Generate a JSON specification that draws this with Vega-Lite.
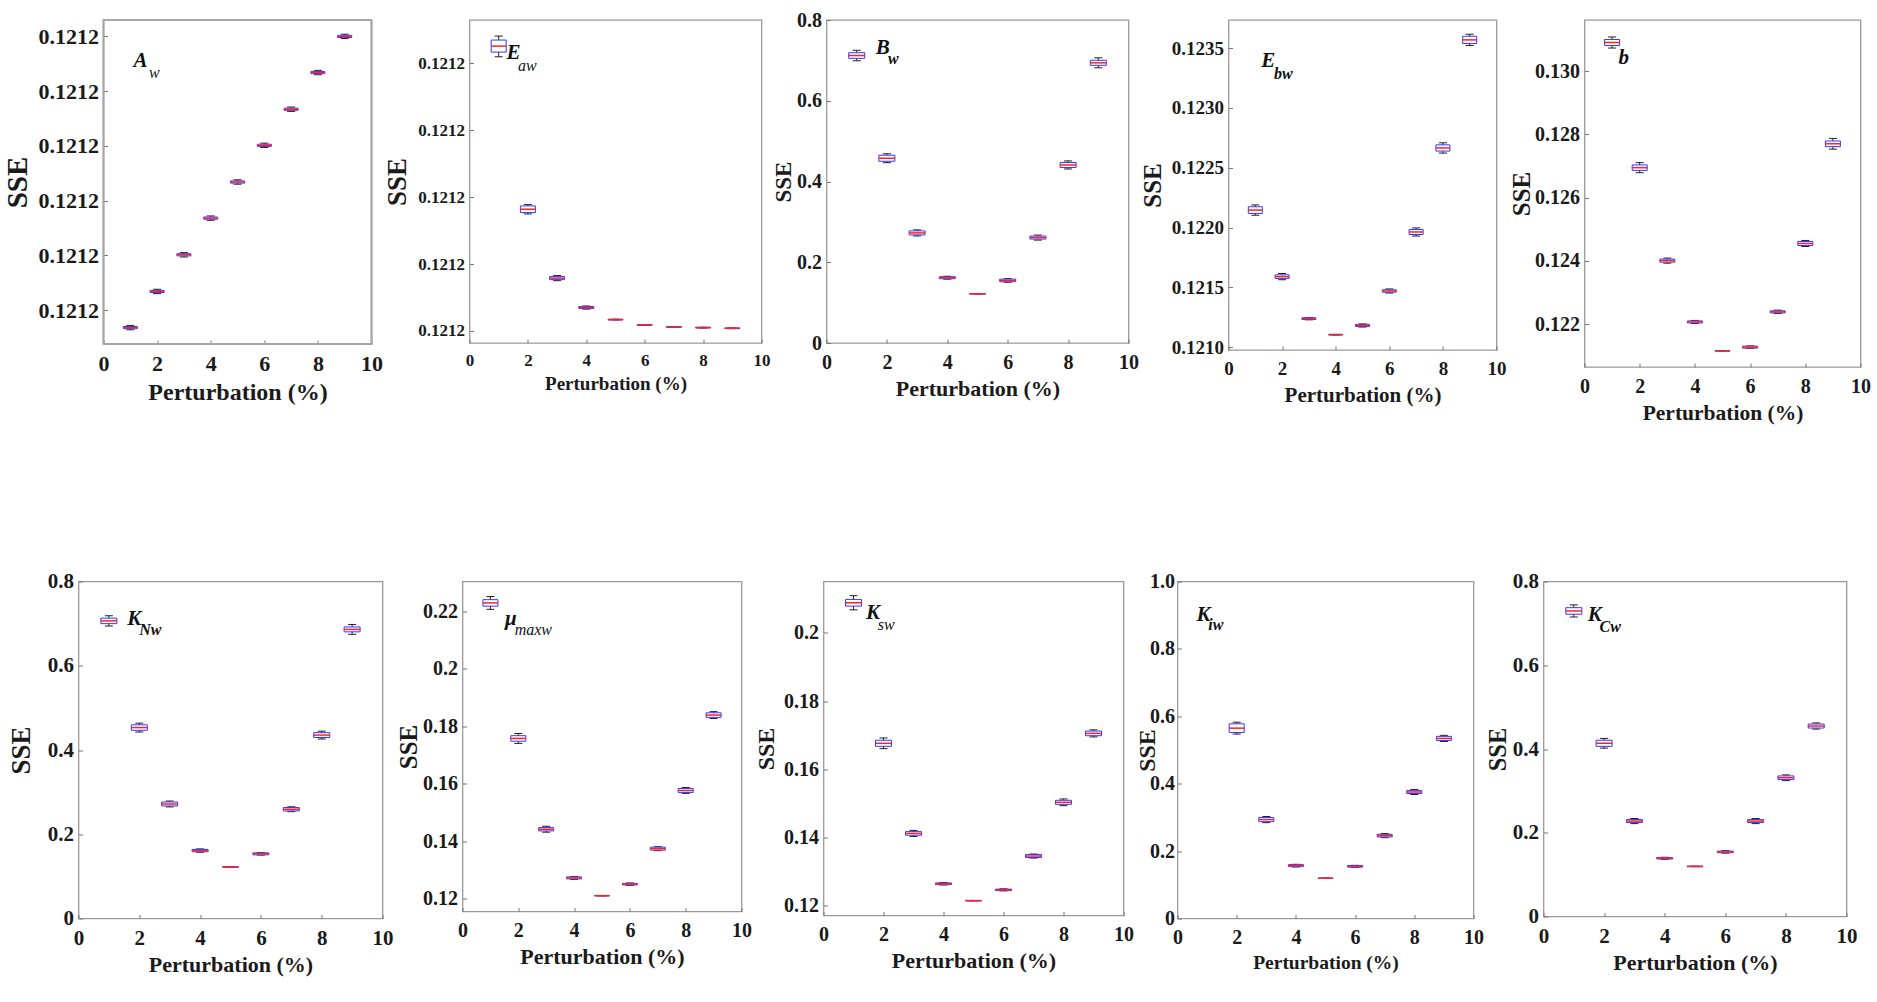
{
"$schema": "https://vega.github.io/schema/vega-lite/v6.json",
"background": "white",
"padding": {"left": 2.5, "top": 9, "right": 0, "bottom": 0},
"config": {
  "view": {"stroke": "#9a9a9a", "strokeWidth": 1.3},
  "axis": {"domain": false, "grid": false, "tickSize": -4, "tickColor": "#777777", "labelFlush": false, "labelFont": "Liberation Serif", "labelFontWeight": "bold", "labelColor": "#1a1a1a", "titleFont": "Liberation Serif", "titleFontWeight": "bold", "titleColor": "#1a1a1a"},
  "axisX": {"labelPadding": 13, "titlePadding": 6},
  "axisY": {"labelPadding": 9}
},
"datasets": {
  "Aw": [
    {"x": 1, "med": 0.1211568, "q1": 0.1211566, "q3": 0.121157, "lo": 0.1211564, "hi": 0.1211572},
    {"x": 2, "med": 0.1211634, "q1": 0.1211632, "q3": 0.1211636, "lo": 0.121163, "hi": 0.1211638},
    {"x": 3, "med": 0.1211701, "q1": 0.1211699, "q3": 0.1211703, "lo": 0.1211697, "hi": 0.1211705},
    {"x": 4, "med": 0.1211768, "q1": 0.1211766, "q3": 0.121177, "lo": 0.1211764, "hi": 0.1211772},
    {"x": 5, "med": 0.1211834, "q1": 0.1211832, "q3": 0.1211836, "lo": 0.121183, "hi": 0.1211838},
    {"x": 6, "med": 0.1211901, "q1": 0.1211899, "q3": 0.1211903, "lo": 0.1211897, "hi": 0.1211905},
    {"x": 7, "med": 0.1211967, "q1": 0.1211965, "q3": 0.1211969, "lo": 0.1211963, "hi": 0.1211971},
    {"x": 8, "med": 0.1212034, "q1": 0.1212032, "q3": 0.1212036, "lo": 0.121203, "hi": 0.1212038},
    {"x": 9, "med": 0.12121, "q1": 0.1212098, "q3": 0.1212102, "lo": 0.1212096, "hi": 0.1212104}
  ],
  "Eaw": [
    {"x": 1, "med": 0.1212026, "q1": 0.1212017, "q3": 0.1212035, "lo": 0.121201, "hi": 0.1212041},
    {"x": 2, "med": 0.1211782, "q1": 0.1211777, "q3": 0.1211787, "lo": 0.1211775, "hi": 0.1211789},
    {"x": 3, "med": 0.1211679, "q1": 0.12116767, "q3": 0.12116813, "lo": 0.12116752, "hi": 0.12116828},
    {"x": 4, "med": 0.1211635, "q1": 0.12116335, "q3": 0.12116365, "lo": 0.12116327, "hi": 0.12116373},
    {"x": 5, "med": 0.1211617, "q1": 0.12116165, "q3": 0.12116175, "lo": 0.12116165, "hi": 0.12116175},
    {"x": 6, "med": 0.1211609, "q1": 0.12116085, "q3": 0.12116095, "lo": 0.12116085, "hi": 0.12116095},
    {"x": 7, "med": 0.1211606, "q1": 0.12116055, "q3": 0.12116065, "lo": 0.12116055, "hi": 0.12116065},
    {"x": 8, "med": 0.1211605, "q1": 0.12116045, "q3": 0.12116055, "lo": 0.12116045, "hi": 0.12116055},
    {"x": 9, "med": 0.1211604, "q1": 0.12116035, "q3": 0.12116045, "lo": 0.12116035, "hi": 0.12116045}
  ],
  "Bw": [
    {"x": 1, "med": 0.712, "q1": 0.705, "q3": 0.719, "lo": 0.699, "hi": 0.725},
    {"x": 2, "med": 0.4576, "q1": 0.4501, "q3": 0.4651, "lo": 0.4466, "hi": 0.4686},
    {"x": 3, "med": 0.2727, "q1": 0.2677, "q3": 0.2777, "lo": 0.2652, "hi": 0.2802},
    {"x": 4, "med": 0.1617, "q1": 0.1592, "q3": 0.1642, "lo": 0.158, "hi": 0.1654},
    {"x": 5, "med": 0.1219, "q1": 0.1214, "q3": 0.1224, "lo": 0.1214, "hi": 0.1224},
    {"x": 6, "med": 0.155, "q1": 0.1518, "q3": 0.1582, "lo": 0.1505, "hi": 0.1595},
    {"x": 7, "med": 0.2611, "q1": 0.2574, "q3": 0.2648, "lo": 0.2549, "hi": 0.2673},
    {"x": 8, "med": 0.441, "q1": 0.4348, "q3": 0.4472, "lo": 0.431, "hi": 0.451},
    {"x": 9, "med": 0.694, "q1": 0.6878, "q3": 0.7002, "lo": 0.6816, "hi": 0.7064}
  ],
  "Ebw": [
    {"x": 1, "med": 0.122146, "q1": 0.122118, "q3": 0.122174, "lo": 0.122103, "hi": 0.122189},
    {"x": 2, "med": 0.12159, "q1": 0.121575, "q3": 0.121605, "lo": 0.121564, "hi": 0.121616},
    {"x": 3, "med": 0.121239, "q1": 0.121232, "q3": 0.121246, "lo": 0.121229, "hi": 0.121249},
    {"x": 4, "med": 0.121105, "q1": 0.1211025, "q3": 0.1211075, "lo": 0.1211025, "hi": 0.1211075},
    {"x": 5, "med": 0.121182, "q1": 0.121173, "q3": 0.121191, "lo": 0.121169, "hi": 0.121195},
    {"x": 6, "med": 0.12147, "q1": 0.12146, "q3": 0.12148, "lo": 0.121453, "hi": 0.121487},
    {"x": 7, "med": 0.121963, "q1": 0.121942, "q3": 0.121984, "lo": 0.121929, "hi": 0.121997},
    {"x": 8, "med": 0.122665, "q1": 0.122639, "q3": 0.122691, "lo": 0.122622, "hi": 0.122708},
    {"x": 9, "med": 0.123568, "q1": 0.123538, "q3": 0.123598, "lo": 0.123521, "hi": 0.123615}
  ],
  "b": [
    {"x": 1, "med": 0.130903, "q1": 0.130807, "q3": 0.130999, "lo": 0.130728, "hi": 0.131078},
    {"x": 2, "med": 0.126948, "q1": 0.126862, "q3": 0.127034, "lo": 0.126789, "hi": 0.127107},
    {"x": 3, "med": 0.124011, "q1": 0.123963, "q3": 0.124059, "lo": 0.123931, "hi": 0.124091},
    {"x": 4, "med": 0.122074, "q1": 0.122042, "q3": 0.122106, "lo": 0.122026, "hi": 0.122122},
    {"x": 5, "med": 0.121161, "q1": 0.121151, "q3": 0.121171, "lo": 0.121151, "hi": 0.121171},
    {"x": 6, "med": 0.121278, "q1": 0.121246, "q3": 0.12131, "lo": 0.12124, "hi": 0.121316},
    {"x": 7, "med": 0.122393, "q1": 0.122361, "q3": 0.122425, "lo": 0.122339, "hi": 0.122447},
    {"x": 8, "med": 0.124552, "q1": 0.124488, "q3": 0.124616, "lo": 0.124456, "hi": 0.124648},
    {"x": 9, "med": 0.127703, "q1": 0.127614, "q3": 0.127792, "lo": 0.127534, "hi": 0.127872}
  ],
  "KNw": [
    {"x": 1, "med": 0.7065, "q1": 0.7, "q3": 0.713, "lo": 0.6943, "hi": 0.7187},
    {"x": 2, "med": 0.4533, "q1": 0.4468, "q3": 0.4598, "lo": 0.4428, "hi": 0.4638},
    {"x": 3, "med": 0.2719, "q1": 0.2672, "q3": 0.2766, "lo": 0.2649, "hi": 0.2789},
    {"x": 4, "med": 0.1612, "q1": 0.1584, "q3": 0.164, "lo": 0.1572, "hi": 0.1652},
    {"x": 5, "med": 0.1223, "q1": 0.1218, "q3": 0.1228, "lo": 0.1218, "hi": 0.1228},
    {"x": 6, "med": 0.1535, "q1": 0.1512, "q3": 0.1558, "lo": 0.1505, "hi": 0.1565},
    {"x": 7, "med": 0.2594, "q1": 0.2554, "q3": 0.2634, "lo": 0.2536, "hi": 0.2652},
    {"x": 8, "med": 0.4354, "q1": 0.4296, "q3": 0.4412, "lo": 0.4261, "hi": 0.4447},
    {"x": 9, "med": 0.6863, "q1": 0.6805, "q3": 0.6921, "lo": 0.6746, "hi": 0.698}
  ],
  "mu": [
    {"x": 1, "med": 0.22286, "q1": 0.22173, "q3": 0.22399, "lo": 0.22063, "hi": 0.22509},
    {"x": 2, "med": 0.17577, "q1": 0.17481, "q3": 0.17673, "lo": 0.17405, "hi": 0.17749},
    {"x": 3, "med": 0.14423, "q1": 0.14365, "q3": 0.14481, "lo": 0.1432, "hi": 0.14526},
    {"x": 4, "med": 0.12732, "q1": 0.12698, "q3": 0.12766, "lo": 0.12681, "hi": 0.12783},
    {"x": 5, "med": 0.12114, "q1": 0.12107, "q3": 0.12121, "lo": 0.12107, "hi": 0.12121},
    {"x": 6, "med": 0.12515, "q1": 0.12488, "q3": 0.12542, "lo": 0.12474, "hi": 0.12556},
    {"x": 7, "med": 0.13748, "q1": 0.13697, "q3": 0.13799, "lo": 0.13679, "hi": 0.13817},
    {"x": 8, "med": 0.15771, "q1": 0.15702, "q3": 0.1584, "lo": 0.15668, "hi": 0.15874},
    {"x": 9, "med": 0.18389, "q1": 0.1831, "q3": 0.18468, "lo": 0.18269, "hi": 0.18509}
  ],
  "Ksw": [
    {"x": 1, "med": 0.2088, "q1": 0.20782, "q3": 0.20978, "lo": 0.20672, "hi": 0.21088},
    {"x": 2, "med": 0.1676, "q1": 0.16671, "q3": 0.16849, "lo": 0.16603, "hi": 0.16917},
    {"x": 3, "med": 0.14119, "q1": 0.14066, "q3": 0.14172, "lo": 0.1403, "hi": 0.14208},
    {"x": 4, "med": 0.12643, "q1": 0.12619, "q3": 0.12667, "lo": 0.12607, "hi": 0.12679},
    {"x": 5, "med": 0.12148, "q1": 0.12142, "q3": 0.12154, "lo": 0.12142, "hi": 0.12154},
    {"x": 6, "med": 0.12465, "q1": 0.12444, "q3": 0.12486, "lo": 0.12435, "hi": 0.12495},
    {"x": 7, "med": 0.13456, "q1": 0.13412, "q3": 0.135, "lo": 0.13397, "hi": 0.13515},
    {"x": 8, "med": 0.15031, "q1": 0.14972, "q3": 0.1509, "lo": 0.14933, "hi": 0.15129},
    {"x": 9, "med": 0.17051, "q1": 0.16983, "q3": 0.17119, "lo": 0.16947, "hi": 0.17155}
  ],
  "Kiw": [
    {"x": 2, "med": 0.5648, "q1": 0.552, "q3": 0.5776, "lo": 0.5472, "hi": 0.5824},
    {"x": 3, "med": 0.2935, "q1": 0.2874, "q3": 0.2996, "lo": 0.2844, "hi": 0.3026},
    {"x": 4, "med": 0.1569, "q1": 0.1539, "q3": 0.1599, "lo": 0.153, "hi": 0.1608},
    {"x": 5, "med": 0.1194, "q1": 0.1188, "q3": 0.12, "lo": 0.1188, "hi": 0.12},
    {"x": 6, "med": 0.1548, "q1": 0.1524, "q3": 0.1572, "lo": 0.1518, "hi": 0.1578},
    {"x": 7, "med": 0.2459, "q1": 0.242, "q3": 0.2498, "lo": 0.2398, "hi": 0.252},
    {"x": 8, "med": 0.3755, "q1": 0.3709, "q3": 0.3801, "lo": 0.3679, "hi": 0.3831},
    {"x": 9, "med": 0.5344, "q1": 0.5283, "q3": 0.5405, "lo": 0.5253, "hi": 0.5435}
  ],
  "KCw": [
    {"x": 1, "med": 0.7297, "q1": 0.7219, "q3": 0.7375, "lo": 0.7152, "hi": 0.7442},
    {"x": 2, "med": 0.4137, "q1": 0.4064, "q3": 0.421, "lo": 0.4021, "hi": 0.4253},
    {"x": 3, "med": 0.2279, "q1": 0.2243, "q3": 0.2315, "lo": 0.2218, "hi": 0.234},
    {"x": 4, "med": 0.139, "q1": 0.1373, "q3": 0.1407, "lo": 0.1366, "hi": 0.1414},
    {"x": 5, "med": 0.1196, "q1": 0.1191, "q3": 0.1201, "lo": 0.1191, "hi": 0.1201},
    {"x": 6, "med": 0.1543, "q1": 0.1524, "q3": 0.1562, "lo": 0.1514, "hi": 0.1572},
    {"x": 7, "med": 0.2279, "q1": 0.2243, "q3": 0.2315, "lo": 0.2218, "hi": 0.234},
    {"x": 8, "med": 0.3313, "q1": 0.3269, "q3": 0.3357, "lo": 0.3245, "hi": 0.3381},
    {"x": 9, "med": 0.4549, "q1": 0.4501, "q3": 0.4597, "lo": 0.4476, "hi": 0.4622}
  ]
},
"vconcat": [
{"hconcat": [
 {"width": 268, "height": 324, "data": {"name": "Aw"}, "view": {"stroke": null},
  "layer": [
   {"mark": {"type": "rect", "fill": null, "stroke": "#a6a6a6", "strokeWidth": 1.2},
    "encoding": {
     "x": {"datum": 0, "type": "quantitative", "scale": {"domain": [0, 10], "range": [25, 293], "nice": false}, "axis": {"values": [0, 2, 4, 6, 8, 10], "format": "d", "title": "Perturbation (%)", "labelFontSize": 22, "titleFontSize": 24, "titleX": 159}},
     "x2": {"datum": 10},
     "y": {"datum": 0.1211538, "type": "quantitative", "scale": {"domain": [0.1211538, 0.121213], "nice": false, "zero": false}, "axis": {"values": [0.12116, 0.12117, 0.12118, 0.12119, 0.1212, 0.12121], "format": ".4f", "title": "SSE", "labelFontSize": 22, "titleFontSize": 29, "titlePadding": 6, "offset": -25}},
     "y2": {"datum": 0.121213}}},
   {"mark": {"type": "rule", "color": "#222222", "strokeWidth": 1}, "encoding": {"x": {"field": "x", "type": "quantitative"}, "y": {"field": "lo", "type": "quantitative"}, "y2": {"field": "hi"}}},
   {"mark": {"type": "rule", "color": "#222222", "strokeWidth": 1, "xOffset": -4, "x2Offset": 4}, "encoding": {"x": {"field": "x", "type": "quantitative"}, "x2": {"field": "x"}, "y": {"field": "lo", "type": "quantitative"}}},
   {"mark": {"type": "rule", "color": "#222222", "strokeWidth": 1, "xOffset": -4, "x2Offset": 4}, "encoding": {"x": {"field": "x", "type": "quantitative"}, "x2": {"field": "x"}, "y": {"field": "hi", "type": "quantitative"}}},
   {"mark": {"type": "rect", "fill": "#ffffff", "stroke": "#3535ff", "strokeWidth": 1, "xOffset": -7, "x2Offset": 7}, "encoding": {"x": {"field": "x", "type": "quantitative"}, "x2": {"field": "x"}, "y": {"field": "q1", "type": "quantitative"}, "y2": {"field": "q3"}}},
   {"mark": {"type": "rule", "color": "#ff2020", "strokeWidth": 1.5, "xOffset": -7, "x2Offset": 7}, "encoding": {"x": {"field": "x", "type": "quantitative"}, "x2": {"field": "x"}, "y": {"field": "med", "type": "quantitative"}}},
   {"data": {"values": [{"x": 1.12, "y": 0.1212045, "t": "A"}]}, "mark": {"type": "text", "font": "Liberation Serif", "fontStyle": "italic", "fontWeight": "bold", "fontSize": 21, "align": "left", "baseline": "alphabetic", "color": "#111111"}, "encoding": {"x": {"field": "x", "type": "quantitative"}, "y": {"field": "y", "type": "quantitative"}, "text": {"field": "t"}}},
   {"data": {"values": [{"x": 1.7, "y": 0.1212024, "t": "w"}]}, "mark": {"type": "text", "font": "Liberation Serif", "fontStyle": "italic", "fontSize": 16, "align": "left", "baseline": "alphabetic", "color": "#111111"}, "encoding": {"x": {"field": "x", "type": "quantitative"}, "y": {"field": "y", "type": "quantitative"}, "text": {"field": "t"}}}
  ]},
 {"width": 292, "height": 323, "data": {"name": "Eaw"},
  "layer": [
   {"mark": {"type": "rule", "color": "#222222", "strokeWidth": 1},
    "encoding": {
     "x": {"field": "x", "type": "quantitative", "scale": {"domain": [0, 10], "nice": false}, "axis": {"values": [0, 2, 4, 6, 8, 10], "format": "d", "title": "Perturbation (%)", "labelFontSize": 17, "titleFontSize": 19}},
     "y": {"field": "lo", "type": "quantitative", "scale": {"domain": [0.1211582, 0.1212065], "nice": false, "zero": false}, "axis": {"values": [0.12116, 0.12117, 0.12118, 0.12119, 0.1212], "format": ".4f", "title": "SSE", "labelFontSize": 17, "titleFontSize": 27, "titlePadding": 6}},
     "y2": {"field": "hi"}}},
   {"mark": {"type": "rule", "color": "#222222", "strokeWidth": 1, "xOffset": -4, "x2Offset": 4}, "encoding": {"x": {"field": "x", "type": "quantitative"}, "x2": {"field": "x"}, "y": {"field": "lo", "type": "quantitative"}}},
   {"mark": {"type": "rule", "color": "#222222", "strokeWidth": 1, "xOffset": -4, "x2Offset": 4}, "encoding": {"x": {"field": "x", "type": "quantitative"}, "x2": {"field": "x"}, "y": {"field": "hi", "type": "quantitative"}}},
   {"mark": {"type": "rect", "fill": "#ffffff", "stroke": "#3535ff", "strokeWidth": 1, "xOffset": -7.5, "x2Offset": 7.5}, "encoding": {"x": {"field": "x", "type": "quantitative"}, "x2": {"field": "x"}, "y": {"field": "q1", "type": "quantitative"}, "y2": {"field": "q3"}}},
   {"mark": {"type": "rule", "color": "#ff2020", "strokeWidth": 1.5, "xOffset": -7.5, "x2Offset": 7.5}, "encoding": {"x": {"field": "x", "type": "quantitative"}, "x2": {"field": "x"}, "y": {"field": "med", "type": "quantitative"}}},
   {"data": {"values": [{"x": 1.27, "y": 0.1212007, "t": "E"}]}, "mark": {"type": "text", "font": "Liberation Serif", "fontStyle": "italic", "fontWeight": "bold", "fontSize": 21, "align": "left", "baseline": "alphabetic", "color": "#111111"}, "encoding": {"x": {"field": "x", "type": "quantitative"}, "y": {"field": "y", "type": "quantitative"}, "text": {"field": "t"}}},
   {"data": {"values": [{"x": 1.66, "y": 0.1211989, "t": "aw"}]}, "mark": {"type": "text", "font": "Liberation Serif", "fontStyle": "italic", "fontSize": 16, "align": "left", "baseline": "alphabetic", "color": "#111111"}, "encoding": {"x": {"field": "x", "type": "quantitative"}, "y": {"field": "y", "type": "quantitative"}, "text": {"field": "t"}}}
  ]},
 {"width": 302, "height": 323, "data": {"name": "Bw"},
  "layer": [
   {"mark": {"type": "rule", "color": "#222222", "strokeWidth": 1},
    "encoding": {
     "x": {"field": "x", "type": "quantitative", "scale": {"domain": [0, 10], "nice": false}, "axis": {"values": [0, 2, 4, 6, 8, 10], "format": "d", "title": "Perturbation (%)", "labelFontSize": 20, "titleFontSize": 22}},
     "y": {"field": "lo", "type": "quantitative", "scale": {"domain": [0, 0.8], "nice": false, "zero": false}, "axis": {"values": [0, 0.2, 0.4, 0.6, 0.8], "format": ".2~f", "title": "SSE", "labelFontSize": 20, "titleFontSize": 23, "titlePadding": 1}},
     "y2": {"field": "hi"}}},
   {"mark": {"type": "rule", "color": "#222222", "strokeWidth": 1, "xOffset": -4, "x2Offset": 4}, "encoding": {"x": {"field": "x", "type": "quantitative"}, "x2": {"field": "x"}, "y": {"field": "lo", "type": "quantitative"}}},
   {"mark": {"type": "rule", "color": "#222222", "strokeWidth": 1, "xOffset": -4, "x2Offset": 4}, "encoding": {"x": {"field": "x", "type": "quantitative"}, "x2": {"field": "x"}, "y": {"field": "hi", "type": "quantitative"}}},
   {"mark": {"type": "rect", "fill": "#ffffff", "stroke": "#3535ff", "strokeWidth": 1, "xOffset": -8, "x2Offset": 8}, "encoding": {"x": {"field": "x", "type": "quantitative"}, "x2": {"field": "x"}, "y": {"field": "q1", "type": "quantitative"}, "y2": {"field": "q3"}}},
   {"mark": {"type": "rule", "color": "#ff2020", "strokeWidth": 1.5, "xOffset": -8, "x2Offset": 8}, "encoding": {"x": {"field": "x", "type": "quantitative"}, "x2": {"field": "x"}, "y": {"field": "med", "type": "quantitative"}}},
   {"data": {"values": [{"x": 1.63, "y": 0.717, "t": "B"}]}, "mark": {"type": "text", "font": "Liberation Serif", "fontStyle": "italic", "fontWeight": "bold", "fontSize": 21, "align": "left", "baseline": "alphabetic", "color": "#111111"}, "encoding": {"x": {"field": "x", "type": "quantitative"}, "y": {"field": "y", "type": "quantitative"}, "text": {"field": "t"}}},
   {"data": {"values": [{"x": 2.04, "y": 0.692, "t": "w"}]}, "mark": {"type": "text", "font": "Liberation Serif", "fontStyle": "italic", "fontWeight": "bold", "fontSize": 16, "align": "left", "baseline": "alphabetic", "color": "#111111"}, "encoding": {"x": {"field": "x", "type": "quantitative"}, "y": {"field": "y", "type": "quantitative"}, "text": {"field": "t"}}}
  ]},
 {"width": 268, "height": 330, "data": {"name": "Ebw"},
  "layer": [
   {"mark": {"type": "rule", "color": "#222222", "strokeWidth": 1},
    "encoding": {
     "x": {"field": "x", "type": "quantitative", "scale": {"domain": [0, 10], "nice": false}, "axis": {"values": [0, 2, 4, 6, 8, 10], "format": "d", "title": "Perturbation (%)", "labelFontSize": 19, "titleFontSize": 21}},
     "y": {"field": "lo", "type": "quantitative", "scale": {"domain": [0.120977, 0.123734], "nice": false, "zero": false}, "axis": {"values": [0.121, 0.1215, 0.122, 0.1225, 0.123, 0.1235], "format": ".4f", "title": "SSE", "labelFontSize": 19, "titleFontSize": 25, "titlePadding": 5.5}},
     "y2": {"field": "hi"}}},
   {"mark": {"type": "rule", "color": "#222222", "strokeWidth": 1, "xOffset": -4, "x2Offset": 4}, "encoding": {"x": {"field": "x", "type": "quantitative"}, "x2": {"field": "x"}, "y": {"field": "lo", "type": "quantitative"}}},
   {"mark": {"type": "rule", "color": "#222222", "strokeWidth": 1, "xOffset": -4, "x2Offset": 4}, "encoding": {"x": {"field": "x", "type": "quantitative"}, "x2": {"field": "x"}, "y": {"field": "hi", "type": "quantitative"}}},
   {"mark": {"type": "rect", "fill": "#ffffff", "stroke": "#3535ff", "strokeWidth": 1, "xOffset": -7, "x2Offset": 7}, "encoding": {"x": {"field": "x", "type": "quantitative"}, "x2": {"field": "x"}, "y": {"field": "q1", "type": "quantitative"}, "y2": {"field": "q3"}}},
   {"mark": {"type": "rule", "color": "#ff2020", "strokeWidth": 1.5, "xOffset": -7, "x2Offset": 7}, "encoding": {"x": {"field": "x", "type": "quantitative"}, "x2": {"field": "x"}, "y": {"field": "med", "type": "quantitative"}}},
   {"data": {"values": [{"x": 1.22, "y": 0.123343, "t": "E"}]}, "mark": {"type": "text", "font": "Liberation Serif", "fontStyle": "italic", "fontWeight": "bold", "fontSize": 21, "align": "left", "baseline": "alphabetic", "color": "#111111"}, "encoding": {"x": {"field": "x", "type": "quantitative"}, "y": {"field": "y", "type": "quantitative"}, "text": {"field": "t"}}},
   {"data": {"values": [{"x": 1.7, "y": 0.123243, "t": "bw"}]}, "mark": {"type": "text", "font": "Liberation Serif", "fontStyle": "italic", "fontWeight": "bold", "fontSize": 16, "align": "left", "baseline": "alphabetic", "color": "#111111"}, "encoding": {"x": {"field": "x", "type": "quantitative"}, "y": {"field": "y", "type": "quantitative"}, "text": {"field": "t"}}}
  ]},
 {"width": 276, "height": 347, "data": {"name": "b"},
  "layer": [
   {"mark": {"type": "rule", "color": "#222222", "strokeWidth": 1},
    "encoding": {
     "x": {"field": "x", "type": "quantitative", "scale": {"domain": [0, 10], "nice": false}, "axis": {"values": [0, 2, 4, 6, 8, 10], "format": "d", "title": "Perturbation (%)", "labelFontSize": 20, "titleFontSize": 21.5}},
     "y": {"field": "lo", "type": "quantitative", "scale": {"domain": [0.12065, 0.131614], "nice": false, "zero": false}, "axis": {"values": [0.122, 0.124, 0.126, 0.128, 0.13], "format": ".3f", "title": "SSE", "labelFontSize": 20, "titleFontSize": 25, "titlePadding": 0.5}},
     "y2": {"field": "hi"}}},
   {"mark": {"type": "rule", "color": "#222222", "strokeWidth": 1, "xOffset": -4, "x2Offset": 4}, "encoding": {"x": {"field": "x", "type": "quantitative"}, "x2": {"field": "x"}, "y": {"field": "lo", "type": "quantitative"}}},
   {"mark": {"type": "rule", "color": "#222222", "strokeWidth": 1, "xOffset": -4, "x2Offset": 4}, "encoding": {"x": {"field": "x", "type": "quantitative"}, "x2": {"field": "x"}, "y": {"field": "hi", "type": "quantitative"}}},
   {"mark": {"type": "rect", "fill": "#ffffff", "stroke": "#3535ff", "strokeWidth": 1, "xOffset": -7.5, "x2Offset": 7.5}, "encoding": {"x": {"field": "x", "type": "quantitative"}, "x2": {"field": "x"}, "y": {"field": "q1", "type": "quantitative"}, "y2": {"field": "q3"}}},
   {"mark": {"type": "rule", "color": "#ff2020", "strokeWidth": 1.5, "xOffset": -7.5, "x2Offset": 7.5}, "encoding": {"x": {"field": "x", "type": "quantitative"}, "x2": {"field": "x"}, "y": {"field": "med", "type": "quantitative"}}},
   {"data": {"values": [{"x": 1.23, "y": 0.13021, "t": "b"}]}, "mark": {"type": "text", "font": "Liberation Serif", "fontStyle": "italic", "fontWeight": "bold", "fontSize": 21, "align": "left", "baseline": "alphabetic", "color": "#111111"}, "encoding": {"x": {"field": "x", "type": "quantitative"}, "y": {"field": "y", "type": "quantitative"}, "text": {"field": "t"}}}
  ]}
], "spacing": 0},
{"hconcat": [
 {"width": 304, "height": 337, "data": {"name": "KNw"},
  "layer": [
   {"mark": {"type": "rule", "color": "#222222", "strokeWidth": 1},
    "encoding": {
     "x": {"field": "x", "type": "quantitative", "scale": {"domain": [0, 10], "nice": false}, "axis": {"values": [0, 2, 4, 6, 8, 10], "format": "d", "title": "Perturbation (%)", "labelFontSize": 21, "titleFontSize": 22}},
     "y": {"field": "lo", "type": "quantitative", "scale": {"domain": [0, 0.8], "nice": false, "zero": false}, "axis": {"values": [0, 0.2, 0.4, 0.6, 0.8], "format": ".2~f", "title": "SSE", "labelFontSize": 21, "titleFontSize": 27, "titlePadding": 12}},
     "y2": {"field": "hi"}}},
   {"mark": {"type": "rule", "color": "#222222", "strokeWidth": 1, "xOffset": -4, "x2Offset": 4}, "encoding": {"x": {"field": "x", "type": "quantitative"}, "x2": {"field": "x"}, "y": {"field": "lo", "type": "quantitative"}}},
   {"mark": {"type": "rule", "color": "#222222", "strokeWidth": 1, "xOffset": -4, "x2Offset": 4}, "encoding": {"x": {"field": "x", "type": "quantitative"}, "x2": {"field": "x"}, "y": {"field": "hi", "type": "quantitative"}}},
   {"mark": {"type": "rect", "fill": "#ffffff", "stroke": "#3535ff", "strokeWidth": 1, "xOffset": -8, "x2Offset": 8}, "encoding": {"x": {"field": "x", "type": "quantitative"}, "x2": {"field": "x"}, "y": {"field": "q1", "type": "quantitative"}, "y2": {"field": "q3"}}},
   {"mark": {"type": "rule", "color": "#ff2020", "strokeWidth": 1.5, "xOffset": -8, "x2Offset": 8}, "encoding": {"x": {"field": "x", "type": "quantitative"}, "x2": {"field": "x"}, "y": {"field": "med", "type": "quantitative"}}},
   {"data": {"values": [{"x": 1.6, "y": 0.697, "t": "K"}]}, "mark": {"type": "text", "font": "Liberation Serif", "fontStyle": "italic", "fontWeight": "bold", "fontSize": 21, "align": "left", "baseline": "alphabetic", "color": "#111111"}, "encoding": {"x": {"field": "x", "type": "quantitative"}, "y": {"field": "y", "type": "quantitative"}, "text": {"field": "t"}}},
   {"data": {"values": [{"x": 2.0, "y": 0.672, "t": "Nw"}]}, "mark": {"type": "text", "font": "Liberation Serif", "fontStyle": "italic", "fontWeight": "bold", "fontSize": 16, "align": "left", "baseline": "alphabetic", "color": "#111111"}, "encoding": {"x": {"field": "x", "type": "quantitative"}, "y": {"field": "y", "type": "quantitative"}, "text": {"field": "t"}}}
  ]},
 {"width": 279, "height": 330, "data": {"name": "mu"},
  "layer": [
   {"mark": {"type": "rule", "color": "#222222", "strokeWidth": 1},
    "encoding": {
     "x": {"field": "x", "type": "quantitative", "scale": {"domain": [0, 10], "nice": false}, "axis": {"values": [0, 2, 4, 6, 8, 10], "format": "d", "title": "Perturbation (%)", "labelFontSize": 20, "titleFontSize": 22}},
     "y": {"field": "lo", "type": "quantitative", "scale": {"domain": [0.11565, 0.2303], "nice": false, "zero": false}, "axis": {"values": [0.12, 0.14, 0.16, 0.18, 0.2, 0.22], "format": ".2~f", "title": "SSE", "labelFontSize": 20, "titleFontSize": 25, "titlePadding": 1.5}},
     "y2": {"field": "hi"}}},
   {"mark": {"type": "rule", "color": "#222222", "strokeWidth": 1, "xOffset": -4, "x2Offset": 4}, "encoding": {"x": {"field": "x", "type": "quantitative"}, "x2": {"field": "x"}, "y": {"field": "lo", "type": "quantitative"}}},
   {"mark": {"type": "rule", "color": "#222222", "strokeWidth": 1, "xOffset": -4, "x2Offset": 4}, "encoding": {"x": {"field": "x", "type": "quantitative"}, "x2": {"field": "x"}, "y": {"field": "hi", "type": "quantitative"}}},
   {"mark": {"type": "rect", "fill": "#ffffff", "stroke": "#3535ff", "strokeWidth": 1, "xOffset": -7.5, "x2Offset": 7.5}, "encoding": {"x": {"field": "x", "type": "quantitative"}, "x2": {"field": "x"}, "y": {"field": "q1", "type": "quantitative"}, "y2": {"field": "q3"}}},
   {"mark": {"type": "rule", "color": "#ff2020", "strokeWidth": 1.5, "xOffset": -7.5, "x2Offset": 7.5}, "encoding": {"x": {"field": "x", "type": "quantitative"}, "x2": {"field": "x"}, "y": {"field": "med", "type": "quantitative"}}},
   {"data": {"values": [{"x": 1.52, "y": 0.2152, "t": "μ"}]}, "mark": {"type": "text", "font": "Liberation Serif", "fontStyle": "italic", "fontWeight": "bold", "fontSize": 21, "align": "left", "baseline": "alphabetic", "color": "#111111"}, "encoding": {"x": {"field": "x", "type": "quantitative"}, "y": {"field": "y", "type": "quantitative"}, "text": {"field": "t"}}},
   {"data": {"values": [{"x": 1.87, "y": 0.2118, "t": "maxw"}]}, "mark": {"type": "text", "font": "Liberation Serif", "fontStyle": "italic", "fontSize": 16, "align": "left", "baseline": "alphabetic", "color": "#111111"}, "encoding": {"x": {"field": "x", "type": "quantitative"}, "y": {"field": "y", "type": "quantitative"}, "text": {"field": "t"}}}
  ]},
 {"width": 300, "height": 334, "data": {"name": "Ksw"},
  "layer": [
   {"mark": {"type": "rule", "color": "#222222", "strokeWidth": 1},
    "encoding": {
     "x": {"field": "x", "type": "quantitative", "scale": {"domain": [0, 10], "nice": false}, "axis": {"values": [0, 2, 4, 6, 8, 10], "format": "d", "title": "Perturbation (%)", "labelFontSize": 20, "titleFontSize": 22}},
     "y": {"field": "lo", "type": "quantitative", "scale": {"domain": [0.11713, 0.21503], "nice": false, "zero": false}, "axis": {"values": [0.12, 0.14, 0.16, 0.18, 0.2], "format": ".2~f", "title": "SSE", "labelFontSize": 20, "titleFontSize": 24, "titlePadding": 5.4}},
     "y2": {"field": "hi"}}},
   {"mark": {"type": "rule", "color": "#222222", "strokeWidth": 1, "xOffset": -4, "x2Offset": 4}, "encoding": {"x": {"field": "x", "type": "quantitative"}, "x2": {"field": "x"}, "y": {"field": "lo", "type": "quantitative"}}},
   {"mark": {"type": "rule", "color": "#222222", "strokeWidth": 1, "xOffset": -4, "x2Offset": 4}, "encoding": {"x": {"field": "x", "type": "quantitative"}, "x2": {"field": "x"}, "y": {"field": "hi", "type": "quantitative"}}},
   {"mark": {"type": "rect", "fill": "#ffffff", "stroke": "#3535ff", "strokeWidth": 1, "xOffset": -8, "x2Offset": 8}, "encoding": {"x": {"field": "x", "type": "quantitative"}, "x2": {"field": "x"}, "y": {"field": "q1", "type": "quantitative"}, "y2": {"field": "q3"}}},
   {"mark": {"type": "rule", "color": "#ff2020", "strokeWidth": 1.5, "xOffset": -8, "x2Offset": 8}, "encoding": {"x": {"field": "x", "type": "quantitative"}, "x2": {"field": "x"}, "y": {"field": "med", "type": "quantitative"}}},
   {"data": {"values": [{"x": 1.42, "y": 0.20406, "t": "K"}]}, "mark": {"type": "text", "font": "Liberation Serif", "fontStyle": "italic", "fontWeight": "bold", "fontSize": 21, "align": "left", "baseline": "alphabetic", "color": "#111111"}, "encoding": {"x": {"field": "x", "type": "quantitative"}, "y": {"field": "y", "type": "quantitative"}, "text": {"field": "t"}}},
   {"data": {"values": [{"x": 1.81, "y": 0.20089, "t": "sw"}]}, "mark": {"type": "text", "font": "Liberation Serif", "fontStyle": "italic", "fontSize": 16, "align": "left", "baseline": "alphabetic", "color": "#111111"}, "encoding": {"x": {"field": "x", "type": "quantitative"}, "y": {"field": "y", "type": "quantitative"}, "text": {"field": "t"}}}
  ]},
 {"width": 296, "height": 337, "data": {"name": "Kiw"},
  "layer": [
   {"mark": {"type": "rule", "color": "#222222", "strokeWidth": 1},
    "encoding": {
     "x": {"field": "x", "type": "quantitative", "scale": {"domain": [0, 10], "nice": false}, "axis": {"values": [0, 2, 4, 6, 8, 10], "format": "d", "title": "Perturbation (%)", "labelFontSize": 20, "titleFontSize": 19.5}},
     "y": {"field": "lo", "type": "quantitative", "scale": {"domain": [0, 1], "nice": false, "zero": false}, "axis": {"values": [0, 0.2, 0.4, 0.6, 0.8, 1], "labelExpr": "datum.value == 0 ? '0' : format(datum.value, '.1f')", "title": "SSE", "labelFontSize": 20, "titleFontSize": 24, "labelPadding": 7, "titlePadding": -10.4}},
     "y2": {"field": "hi"}}},
   {"mark": {"type": "rule", "color": "#222222", "strokeWidth": 1, "xOffset": -4, "x2Offset": 4}, "encoding": {"x": {"field": "x", "type": "quantitative"}, "x2": {"field": "x"}, "y": {"field": "lo", "type": "quantitative"}}},
   {"mark": {"type": "rule", "color": "#222222", "strokeWidth": 1, "xOffset": -4, "x2Offset": 4}, "encoding": {"x": {"field": "x", "type": "quantitative"}, "x2": {"field": "x"}, "y": {"field": "hi", "type": "quantitative"}}},
   {"mark": {"type": "rect", "fill": "#ffffff", "stroke": "#3535ff", "strokeWidth": 1, "xOffset": -7.5, "x2Offset": 7.5}, "encoding": {"x": {"field": "x", "type": "quantitative"}, "x2": {"field": "x"}, "y": {"field": "q1", "type": "quantitative"}, "y2": {"field": "q3"}}},
   {"mark": {"type": "rule", "color": "#ff2020", "strokeWidth": 1.5, "xOffset": -7.5, "x2Offset": 7.5}, "encoding": {"x": {"field": "x", "type": "quantitative"}, "x2": {"field": "x"}, "y": {"field": "med", "type": "quantitative"}}},
   {"data": {"values": [{"x": 0.64, "y": 0.884, "t": "K"}]}, "mark": {"type": "text", "font": "Liberation Serif", "fontStyle": "italic", "fontWeight": "bold", "fontSize": 21, "align": "left", "baseline": "alphabetic", "color": "#111111"}, "encoding": {"x": {"field": "x", "type": "quantitative"}, "y": {"field": "y", "type": "quantitative"}, "text": {"field": "t"}}},
   {"data": {"values": [{"x": 1.04, "y": 0.855, "t": "iw"}]}, "mark": {"type": "text", "font": "Liberation Serif", "fontStyle": "italic", "fontWeight": "bold", "fontSize": 16, "align": "left", "baseline": "alphabetic", "color": "#111111"}, "encoding": {"x": {"field": "x", "type": "quantitative"}, "y": {"field": "y", "type": "quantitative"}, "text": {"field": "t"}}}
  ]},
 {"width": 303, "height": 335, "data": {"name": "KCw"},
  "layer": [
   {"mark": {"type": "rule", "color": "#222222", "strokeWidth": 1},
    "encoding": {
     "x": {"field": "x", "type": "quantitative", "scale": {"domain": [0, 10], "nice": false}, "axis": {"values": [0, 2, 4, 6, 8, 10], "format": "d", "title": "Perturbation (%)", "labelFontSize": 21, "titleFontSize": 22}},
     "y": {"field": "lo", "type": "quantitative", "scale": {"domain": [0, 0.8], "nice": false, "zero": false}, "axis": {"values": [0, 0.2, 0.4, 0.6, 0.8], "format": ".2~f", "title": "SSE", "labelFontSize": 21, "titleFontSize": 24.5, "titlePadding": 2.0}},
     "y2": {"field": "hi"}}},
   {"mark": {"type": "rule", "color": "#222222", "strokeWidth": 1, "xOffset": -4, "x2Offset": 4}, "encoding": {"x": {"field": "x", "type": "quantitative"}, "x2": {"field": "x"}, "y": {"field": "lo", "type": "quantitative"}}},
   {"mark": {"type": "rule", "color": "#222222", "strokeWidth": 1, "xOffset": -4, "x2Offset": 4}, "encoding": {"x": {"field": "x", "type": "quantitative"}, "x2": {"field": "x"}, "y": {"field": "hi", "type": "quantitative"}}},
   {"mark": {"type": "rect", "fill": "#ffffff", "stroke": "#3535ff", "strokeWidth": 1, "xOffset": -8, "x2Offset": 8}, "encoding": {"x": {"field": "x", "type": "quantitative"}, "x2": {"field": "x"}, "y": {"field": "q1", "type": "quantitative"}, "y2": {"field": "q3"}}},
   {"mark": {"type": "rule", "color": "#ff2020", "strokeWidth": 1.5, "xOffset": -8, "x2Offset": 8}, "encoding": {"x": {"field": "x", "type": "quantitative"}, "x2": {"field": "x"}, "y": {"field": "med", "type": "quantitative"}}},
   {"data": {"values": [{"x": 1.46, "y": 0.7045, "t": "K"}]}, "mark": {"type": "text", "font": "Liberation Serif", "fontStyle": "italic", "fontWeight": "bold", "fontSize": 21, "align": "left", "baseline": "alphabetic", "color": "#111111"}, "encoding": {"x": {"field": "x", "type": "quantitative"}, "y": {"field": "y", "type": "quantitative"}, "text": {"field": "t"}}},
   {"data": {"values": [{"x": 1.85, "y": 0.679, "t": "Cw"}]}, "mark": {"type": "text", "font": "Liberation Serif", "fontStyle": "italic", "fontWeight": "bold", "fontSize": 16, "align": "left", "baseline": "alphabetic", "color": "#111111"}, "encoding": {"x": {"field": "x", "type": "quantitative"}, "y": {"field": "y", "type": "quantitative"}, "text": {"field": "t"}}}
  ]}
], "spacing": 0}
],
"spacing": 144.5
}
